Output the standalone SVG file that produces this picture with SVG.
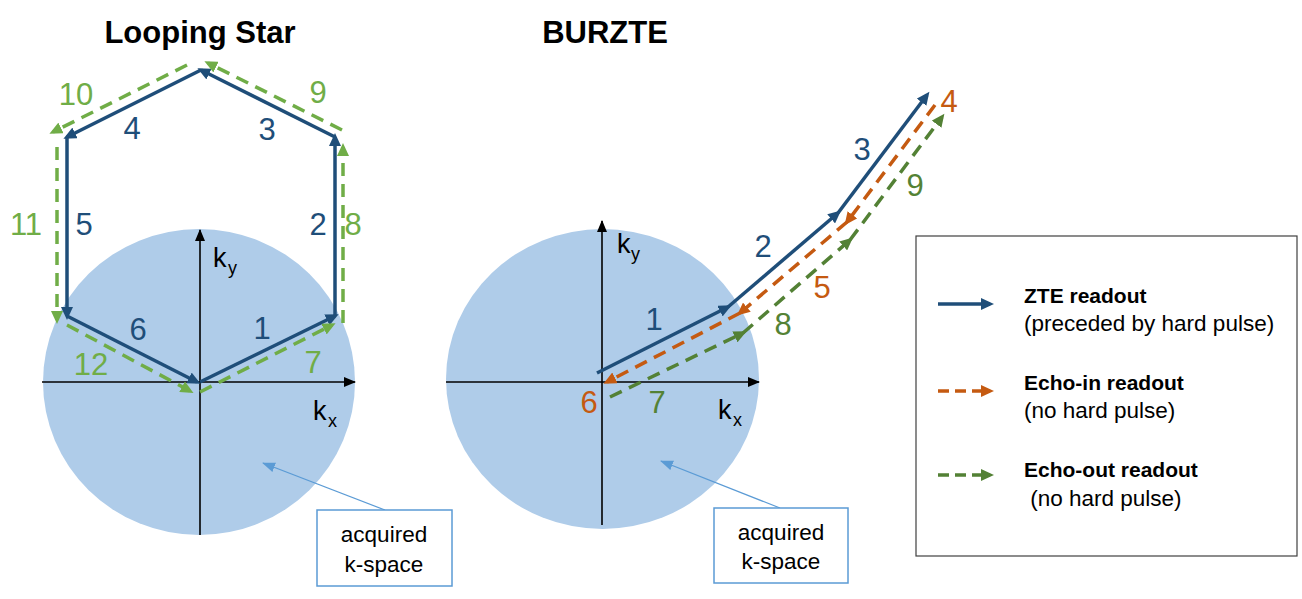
<svg xmlns="http://www.w3.org/2000/svg" width="1302" height="599" viewBox="0 0 1302 599">
<style>
.title{font-family:"Liberation Sans",Arial,sans-serif;font-weight:bold;font-size:31px;fill:#000;text-anchor:middle}
.num{font-family:"Liberation Sans",Arial,sans-serif;font-size:31px;text-anchor:middle}
.k{font-family:"Liberation Sans",Arial,sans-serif;font-size:27px;fill:#000}
.ks{font-family:"Liberation Sans",Arial,sans-serif;font-size:18px;fill:#000}
.leg{font-family:"Liberation Sans",Arial,sans-serif;font-size:22.5px;fill:#000}
.legb{font-family:"Liberation Sans",Arial,sans-serif;font-size:21px;font-weight:bold;fill:#000}
.cap{font-family:"Liberation Sans",Arial,sans-serif;font-size:22.5px;fill:#000;text-anchor:middle}
.blue{stroke:#1f4e79;stroke-width:3.5;fill:none;marker-end:url(#mb)}
.lg{stroke:#70ad47;stroke-width:3.5;fill:none;stroke-dasharray:13 8;marker-end:url(#mlg)}
.or{stroke:#c55a11;stroke-width:3.5;fill:none;stroke-dasharray:13 8;marker-end:url(#mo)}
.dg{stroke:#538135;stroke-width:3.5;fill:none;stroke-dasharray:13 8;marker-end:url(#mdg)}
.ax{stroke:#000;stroke-width:1.6;marker-end:url(#mk)}
.call{stroke:#5b9bd5;stroke-width:1.3;marker-end:url(#mc)}
.cbox{fill:#fff;stroke:#5b9bd5;stroke-width:1.5}
</style>
<defs>
<marker id="mb" markerUnits="userSpaceOnUse" markerWidth="14" markerHeight="12" refX="9" refY="6" orient="auto"><path d="M0,0 L13,6 L0,12 z" fill="#1f4e79"/></marker>
<marker id="mlg" markerUnits="userSpaceOnUse" markerWidth="14" markerHeight="12" refX="9" refY="6" orient="auto"><path d="M0,0 L13,6 L0,12 z" fill="#70ad47"/></marker>
<marker id="mo" markerUnits="userSpaceOnUse" markerWidth="14" markerHeight="12" refX="9" refY="6" orient="auto"><path d="M0,0 L13,6 L0,12 z" fill="#c55a11"/></marker>
<marker id="mdg" markerUnits="userSpaceOnUse" markerWidth="14" markerHeight="12" refX="9" refY="6" orient="auto"><path d="M0,0 L13,6 L0,12 z" fill="#538135"/></marker>
<marker id="mk" markerUnits="userSpaceOnUse" markerWidth="14" markerHeight="12" refX="11" refY="5" orient="auto"><path d="M0,0 L12,5 L0,10 z" fill="#000"/></marker>
<marker id="mc" markerUnits="userSpaceOnUse" markerWidth="14" markerHeight="12" refX="12" refY="5" orient="auto"><path d="M0,0 L13,5 L0,10 z" fill="#5b9bd5"/></marker>
</defs>
<rect width="1302" height="599" fill="#fff"/>

<g id="looping-star">
<text class="title" x="200" y="43">Looping Star</text>
<ellipse cx="199" cy="382" rx="156" ry="153" fill="#afcce9"/>
<line class="ax" x1="42" y1="382" x2="355" y2="382"/>
<line class="ax" x1="200" y1="535" x2="200" y2="230"/>
<text class="k" x="213" y="267">k</text><text class="ks" x="228" y="274">y</text>
<text class="k" x="313" y="420">k</text><text class="ks" x="328" y="427">x</text>
</g>

<g id="burzte">
<text class="title" x="605" y="43">BURZTE</text>
<ellipse cx="602.5" cy="379" rx="156.5" ry="150" fill="#afcce9"/>
<line class="ax" x1="446" y1="382" x2="759" y2="382"/>
<line class="ax" x1="602" y1="525" x2="602" y2="221"/>
<text class="k" x="617" y="253">k</text><text class="ks" x="631" y="260">y</text>
<text class="k" x="718" y="419">k</text><text class="ks" x="733" y="426">x</text>
</g>

<g id="connectors">
<line class="blue" x1="200" y1="382" x2="335" y2="316"/>
<line class="blue" x1="335" y1="316" x2="335" y2="137"/>
<line class="blue" x1="335" y1="137" x2="201" y2="70"/>
<line class="blue" x1="201" y1="70" x2="67" y2="137"/>
<line class="blue" x1="67" y1="137" x2="67" y2="316"/>
<line class="blue" x1="67" y1="316" x2="197" y2="382"/>
<line class="lg" x1="200" y1="392" x2="332" y2="325"/>
<line class="lg" x1="343" y1="323" x2="343" y2="147"/>
<line class="lg" x1="342" y1="130" x2="208" y2="63"/>
<line class="lg" x1="187" y1="65" x2="53" y2="132"/>
<line class="lg" x1="57" y1="147" x2="57" y2="320"/>
<line class="lg" x1="67" y1="325" x2="190" y2="391"/>
<line class="blue" x1="597" y1="373" x2="728" y2="307"/>
<line class="blue" x1="728" y1="307" x2="838" y2="213"/>
<line class="blue" x1="838" y1="213" x2="927" y2="95"/>
<line class="or" x1="935" y1="105" x2="847" y2="222"/>
<line class="or" x1="847" y1="222" x2="740" y2="313"/>
<line class="or" x1="740" y1="313" x2="607" y2="382"/>
<line class="dg" x1="610" y1="397" x2="743" y2="333"/>
<line class="dg" x1="743" y1="333" x2="850" y2="240"/>
<line class="dg" x1="850" y1="240" x2="942" y2="117"/>
<line class="call" x1="385" y1="510" x2="263" y2="463"/>
<line class="call" x1="780" y1="508" x2="661" y2="461"/>
</g>

<g id="ls-labels">
<text class="num" x="76" y="105" fill="#70ad47">10</text>
<text class="num" x="318" y="103" fill="#70ad47">9</text>
<text class="num" x="132" y="139" fill="#1f4e79">4</text>
<text class="num" x="267" y="140" fill="#1f4e79">3</text>
<text class="num" x="26" y="235" fill="#70ad47">11</text>
<text class="num" x="84" y="235" fill="#1f4e79">5</text>
<text class="num" x="318" y="235" fill="#1f4e79">2</text>
<text class="num" x="353" y="235" fill="#70ad47">8</text>
<text class="num" x="138" y="340" fill="#1f4e79">6</text>
<text class="num" x="262" y="339" fill="#1f4e79">1</text>
<text class="num" x="91" y="375" fill="#70ad47">12</text>
<text class="num" x="313" y="373" fill="#70ad47">7</text>
</g>

<g id="bz-labels">
<text class="num" x="862" y="160" fill="#1f4e79">3</text>
<text class="num" x="949" y="112" fill="#c55a11">4</text>
<text class="num" x="915" y="196" fill="#548235">9</text>
<text class="num" x="763" y="257" fill="#1f4e79">2</text>
<text class="num" x="822" y="298" fill="#c55a11">5</text>
<text class="num" x="654" y="330" fill="#1f4e79">1</text>
<text class="num" x="783" y="335" fill="#548235">8</text>
<text class="num" x="589" y="413" fill="#c55a11">6</text>
<text class="num" x="657" y="413" fill="#548235">7</text>
</g>

<g id="callout-left">
<rect class="cbox" x="317" y="510" width="135" height="76"/>
<text class="cap" x="384" y="542">acquired</text>
<text class="cap" x="384" y="572">k-space</text>
</g>

<g id="callout-right">
<rect class="cbox" x="714" y="508" width="134" height="75"/>
<text class="cap" x="781" y="540">acquired</text>
<text class="cap" x="781" y="569">k-space</text>
</g>

<g id="legend">
<rect x="916" y="236" width="381" height="320" fill="#fff" stroke="#404040" stroke-width="1.2"/>
<line x1="938" y1="304" x2="990" y2="304" stroke="#1f4e79" stroke-width="3.5" marker-end="url(#mb)"/>
<line x1="938" y1="391" x2="990" y2="391" stroke="#c55a11" stroke-width="3.5" stroke-dasharray="11 6" marker-end="url(#mo)"/>
<line x1="938" y1="475" x2="990" y2="475" stroke="#538135" stroke-width="3.5" stroke-dasharray="11 6" marker-end="url(#mdg)"/>
<text class="legb" x="1024" y="303">ZTE readout</text>
<text class="leg" x="1024" y="331">(preceded by hard pulse)</text>
<text class="legb" x="1024" y="390">Echo-in readout</text>
<text class="leg" x="1024" y="418">(no hard pulse)</text>
<text class="legb" x="1024" y="477">Echo-out readout</text>
<text class="leg" x="1024" y="506" xml:space="preserve"> (no hard pulse)</text>
</g>
</svg>
